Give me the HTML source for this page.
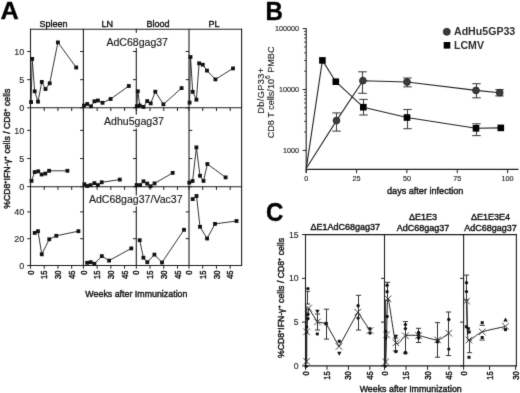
<!DOCTYPE html>
<html><head><meta charset="utf-8"><style>
html,body{margin:0;padding:0;background:#fff;}
svg{display:block;font-family:"Liberation Sans", sans-serif;}
#wrap{width:520px;height:393px;overflow:hidden;will-change:transform;}
text{stroke:#111;stroke-width:0.38px;}
text.nb{stroke:none;}
</style></head><body>
<div id="wrap"><svg width="520" height="393" viewBox="0 0 520 393">
<defs><filter id="soft" x="0" y="0" width="520" height="393" filterUnits="userSpaceOnUse" color-interpolation-filters="sRGB"><feConvolveMatrix order="3" kernelMatrix="0.01 0.08 0.01 0.08 0.64 0.08 0.01 0.08 0.01" edgeMode="duplicate" preserveAlpha="true"/></filter></defs>
<g filter="url(#soft)">
<rect width="520" height="393" fill="#fff"/>
<text transform="translate(0.6,19.3) scale(1.04,1)" font-size="24.3" font-weight="bold" fill="#000">A</text>
<text x="53.50" y="26.50" font-size="9" text-anchor="middle" font-weight="normal" fill="#111" >Spleen</text>
<text x="107.30" y="26.50" font-size="9" text-anchor="middle" font-weight="normal" fill="#111" >LN</text>
<text x="157.90" y="26.50" font-size="9" text-anchor="middle" font-weight="normal" fill="#111" >Blood</text>
<text x="213.90" y="26.50" font-size="9" text-anchor="middle" font-weight="normal" fill="#111" >PL</text>
<line x1="30.50" y1="28.70" x2="30.50" y2="266.00" stroke="#1e1e1e" stroke-width="1.1"/>
<line x1="83.40" y1="28.70" x2="83.40" y2="266.00" stroke="#1e1e1e" stroke-width="1.1"/>
<line x1="136.30" y1="28.70" x2="136.30" y2="266.00" stroke="#1e1e1e" stroke-width="1.1"/>
<line x1="189.00" y1="28.70" x2="189.00" y2="266.00" stroke="#1e1e1e" stroke-width="1.1"/>
<line x1="241.60" y1="28.70" x2="241.60" y2="266.00" stroke="#1e1e1e" stroke-width="1.1"/>
<line x1="30.00" y1="29.20" x2="242.10" y2="29.20" stroke="#1e1e1e" stroke-width="1.1"/>
<line x1="30.00" y1="107.80" x2="242.10" y2="107.80" stroke="#1e1e1e" stroke-width="1.1"/>
<line x1="30.00" y1="186.70" x2="242.10" y2="186.70" stroke="#1e1e1e" stroke-width="1.1"/>
<line x1="30.00" y1="265.50" x2="242.10" y2="265.50" stroke="#1e1e1e" stroke-width="1.1"/>
<line x1="27.20" y1="107.80" x2="30.50" y2="107.80" stroke="#1e1e1e" stroke-width="1"/>
<line x1="27.20" y1="79.65" x2="30.50" y2="79.65" stroke="#1e1e1e" stroke-width="1"/>
<line x1="27.20" y1="51.50" x2="30.50" y2="51.50" stroke="#1e1e1e" stroke-width="1"/>
<line x1="80.10" y1="107.80" x2="83.40" y2="107.80" stroke="#1e1e1e" stroke-width="1"/>
<line x1="80.10" y1="79.65" x2="83.40" y2="79.65" stroke="#1e1e1e" stroke-width="1"/>
<line x1="80.10" y1="51.50" x2="83.40" y2="51.50" stroke="#1e1e1e" stroke-width="1"/>
<line x1="133.00" y1="107.80" x2="136.30" y2="107.80" stroke="#1e1e1e" stroke-width="1"/>
<line x1="133.00" y1="79.65" x2="136.30" y2="79.65" stroke="#1e1e1e" stroke-width="1"/>
<line x1="133.00" y1="51.50" x2="136.30" y2="51.50" stroke="#1e1e1e" stroke-width="1"/>
<line x1="185.70" y1="107.80" x2="189.00" y2="107.80" stroke="#1e1e1e" stroke-width="1"/>
<line x1="185.70" y1="79.65" x2="189.00" y2="79.65" stroke="#1e1e1e" stroke-width="1"/>
<line x1="185.70" y1="51.50" x2="189.00" y2="51.50" stroke="#1e1e1e" stroke-width="1"/>
<text x="24.30" y="111.10" font-size="9" text-anchor="end" font-weight="normal" fill="#222" style="stroke-width:0.12px;stroke:#222">0</text>
<text x="24.30" y="82.95" font-size="9" text-anchor="end" font-weight="normal" fill="#222" style="stroke-width:0.12px;stroke:#222">5</text>
<text x="24.30" y="54.80" font-size="9" text-anchor="end" font-weight="normal" fill="#222" style="stroke-width:0.12px;stroke:#222">10</text>
<line x1="27.20" y1="186.70" x2="30.50" y2="186.70" stroke="#1e1e1e" stroke-width="1"/>
<line x1="27.20" y1="158.55" x2="30.50" y2="158.55" stroke="#1e1e1e" stroke-width="1"/>
<line x1="27.20" y1="130.40" x2="30.50" y2="130.40" stroke="#1e1e1e" stroke-width="1"/>
<line x1="80.10" y1="186.70" x2="83.40" y2="186.70" stroke="#1e1e1e" stroke-width="1"/>
<line x1="80.10" y1="158.55" x2="83.40" y2="158.55" stroke="#1e1e1e" stroke-width="1"/>
<line x1="80.10" y1="130.40" x2="83.40" y2="130.40" stroke="#1e1e1e" stroke-width="1"/>
<line x1="133.00" y1="186.70" x2="136.30" y2="186.70" stroke="#1e1e1e" stroke-width="1"/>
<line x1="133.00" y1="158.55" x2="136.30" y2="158.55" stroke="#1e1e1e" stroke-width="1"/>
<line x1="133.00" y1="130.40" x2="136.30" y2="130.40" stroke="#1e1e1e" stroke-width="1"/>
<line x1="189.00" y1="186.70" x2="192.30" y2="186.70" stroke="#1e1e1e" stroke-width="1"/>
<line x1="189.00" y1="158.55" x2="192.30" y2="158.55" stroke="#1e1e1e" stroke-width="1"/>
<line x1="189.00" y1="130.40" x2="192.30" y2="130.40" stroke="#1e1e1e" stroke-width="1"/>
<text x="24.30" y="190.00" font-size="9" text-anchor="end" font-weight="normal" fill="#222" style="stroke-width:0.12px;stroke:#222">0</text>
<text x="24.30" y="161.85" font-size="9" text-anchor="end" font-weight="normal" fill="#222" style="stroke-width:0.12px;stroke:#222">5</text>
<text x="24.30" y="133.70" font-size="9" text-anchor="end" font-weight="normal" fill="#222" style="stroke-width:0.12px;stroke:#222">10</text>
<line x1="27.20" y1="265.50" x2="30.50" y2="265.50" stroke="#1e1e1e" stroke-width="1"/>
<line x1="27.20" y1="238.70" x2="30.50" y2="238.70" stroke="#1e1e1e" stroke-width="1"/>
<line x1="27.20" y1="211.90" x2="30.50" y2="211.90" stroke="#1e1e1e" stroke-width="1"/>
<line x1="80.10" y1="265.50" x2="83.40" y2="265.50" stroke="#1e1e1e" stroke-width="1"/>
<line x1="80.10" y1="238.70" x2="83.40" y2="238.70" stroke="#1e1e1e" stroke-width="1"/>
<line x1="80.10" y1="211.90" x2="83.40" y2="211.90" stroke="#1e1e1e" stroke-width="1"/>
<line x1="133.00" y1="265.50" x2="136.30" y2="265.50" stroke="#1e1e1e" stroke-width="1"/>
<line x1="133.00" y1="238.70" x2="136.30" y2="238.70" stroke="#1e1e1e" stroke-width="1"/>
<line x1="133.00" y1="211.90" x2="136.30" y2="211.90" stroke="#1e1e1e" stroke-width="1"/>
<line x1="185.70" y1="265.50" x2="189.00" y2="265.50" stroke="#1e1e1e" stroke-width="1"/>
<line x1="185.70" y1="238.70" x2="189.00" y2="238.70" stroke="#1e1e1e" stroke-width="1"/>
<line x1="185.70" y1="211.90" x2="189.00" y2="211.90" stroke="#1e1e1e" stroke-width="1"/>
<text x="24.30" y="268.80" font-size="9" text-anchor="end" font-weight="normal" fill="#222" style="stroke-width:0.12px;stroke:#222">0</text>
<text x="24.30" y="242.00" font-size="9" text-anchor="end" font-weight="normal" fill="#222" style="stroke-width:0.12px;stroke:#222">20</text>
<text x="24.30" y="215.20" font-size="9" text-anchor="end" font-weight="normal" fill="#222" style="stroke-width:0.12px;stroke:#222">40</text>
<line x1="30.50" y1="107.80" x2="30.50" y2="111.00" stroke="#1e1e1e" stroke-width="1"/>
<line x1="44.23" y1="107.80" x2="44.23" y2="111.00" stroke="#1e1e1e" stroke-width="1"/>
<line x1="57.95" y1="107.80" x2="57.95" y2="111.00" stroke="#1e1e1e" stroke-width="1"/>
<line x1="71.68" y1="107.80" x2="71.68" y2="111.00" stroke="#1e1e1e" stroke-width="1"/>
<line x1="83.40" y1="107.80" x2="83.40" y2="111.00" stroke="#1e1e1e" stroke-width="1"/>
<line x1="97.12" y1="107.80" x2="97.12" y2="111.00" stroke="#1e1e1e" stroke-width="1"/>
<line x1="110.85" y1="107.80" x2="110.85" y2="111.00" stroke="#1e1e1e" stroke-width="1"/>
<line x1="124.58" y1="107.80" x2="124.58" y2="111.00" stroke="#1e1e1e" stroke-width="1"/>
<line x1="136.30" y1="107.80" x2="136.30" y2="111.00" stroke="#1e1e1e" stroke-width="1"/>
<line x1="150.03" y1="107.80" x2="150.03" y2="111.00" stroke="#1e1e1e" stroke-width="1"/>
<line x1="163.75" y1="107.80" x2="163.75" y2="111.00" stroke="#1e1e1e" stroke-width="1"/>
<line x1="177.48" y1="107.80" x2="177.48" y2="111.00" stroke="#1e1e1e" stroke-width="1"/>
<line x1="189.00" y1="107.80" x2="189.00" y2="111.00" stroke="#1e1e1e" stroke-width="1"/>
<line x1="202.72" y1="107.80" x2="202.72" y2="111.00" stroke="#1e1e1e" stroke-width="1"/>
<line x1="216.45" y1="107.80" x2="216.45" y2="111.00" stroke="#1e1e1e" stroke-width="1"/>
<line x1="230.18" y1="107.80" x2="230.18" y2="111.00" stroke="#1e1e1e" stroke-width="1"/>
<line x1="30.50" y1="186.70" x2="30.50" y2="189.90" stroke="#1e1e1e" stroke-width="1"/>
<line x1="44.23" y1="186.70" x2="44.23" y2="189.90" stroke="#1e1e1e" stroke-width="1"/>
<line x1="57.95" y1="186.70" x2="57.95" y2="189.90" stroke="#1e1e1e" stroke-width="1"/>
<line x1="71.68" y1="186.70" x2="71.68" y2="189.90" stroke="#1e1e1e" stroke-width="1"/>
<line x1="83.40" y1="186.70" x2="83.40" y2="189.90" stroke="#1e1e1e" stroke-width="1"/>
<line x1="97.12" y1="186.70" x2="97.12" y2="189.90" stroke="#1e1e1e" stroke-width="1"/>
<line x1="110.85" y1="186.70" x2="110.85" y2="189.90" stroke="#1e1e1e" stroke-width="1"/>
<line x1="124.58" y1="186.70" x2="124.58" y2="189.90" stroke="#1e1e1e" stroke-width="1"/>
<line x1="136.30" y1="186.70" x2="136.30" y2="189.90" stroke="#1e1e1e" stroke-width="1"/>
<line x1="150.03" y1="186.70" x2="150.03" y2="189.90" stroke="#1e1e1e" stroke-width="1"/>
<line x1="163.75" y1="186.70" x2="163.75" y2="189.90" stroke="#1e1e1e" stroke-width="1"/>
<line x1="177.48" y1="186.70" x2="177.48" y2="189.90" stroke="#1e1e1e" stroke-width="1"/>
<line x1="189.00" y1="186.70" x2="189.00" y2="189.90" stroke="#1e1e1e" stroke-width="1"/>
<line x1="202.72" y1="186.70" x2="202.72" y2="189.90" stroke="#1e1e1e" stroke-width="1"/>
<line x1="216.45" y1="186.70" x2="216.45" y2="189.90" stroke="#1e1e1e" stroke-width="1"/>
<line x1="230.18" y1="186.70" x2="230.18" y2="189.90" stroke="#1e1e1e" stroke-width="1"/>
<line x1="30.50" y1="265.50" x2="30.50" y2="268.70" stroke="#1e1e1e" stroke-width="1"/>
<line x1="44.23" y1="265.50" x2="44.23" y2="268.70" stroke="#1e1e1e" stroke-width="1"/>
<line x1="57.95" y1="265.50" x2="57.95" y2="268.70" stroke="#1e1e1e" stroke-width="1"/>
<line x1="71.68" y1="265.50" x2="71.68" y2="268.70" stroke="#1e1e1e" stroke-width="1"/>
<line x1="83.40" y1="265.50" x2="83.40" y2="268.70" stroke="#1e1e1e" stroke-width="1"/>
<line x1="97.12" y1="265.50" x2="97.12" y2="268.70" stroke="#1e1e1e" stroke-width="1"/>
<line x1="110.85" y1="265.50" x2="110.85" y2="268.70" stroke="#1e1e1e" stroke-width="1"/>
<line x1="124.58" y1="265.50" x2="124.58" y2="268.70" stroke="#1e1e1e" stroke-width="1"/>
<line x1="136.30" y1="265.50" x2="136.30" y2="268.70" stroke="#1e1e1e" stroke-width="1"/>
<line x1="150.03" y1="265.50" x2="150.03" y2="268.70" stroke="#1e1e1e" stroke-width="1"/>
<line x1="163.75" y1="265.50" x2="163.75" y2="268.70" stroke="#1e1e1e" stroke-width="1"/>
<line x1="177.48" y1="265.50" x2="177.48" y2="268.70" stroke="#1e1e1e" stroke-width="1"/>
<line x1="189.00" y1="265.50" x2="189.00" y2="268.70" stroke="#1e1e1e" stroke-width="1"/>
<line x1="202.72" y1="265.50" x2="202.72" y2="268.70" stroke="#1e1e1e" stroke-width="1"/>
<line x1="216.45" y1="265.50" x2="216.45" y2="268.70" stroke="#1e1e1e" stroke-width="1"/>
<line x1="230.18" y1="265.50" x2="230.18" y2="268.70" stroke="#1e1e1e" stroke-width="1"/>
<text transform="translate(33.60,270.6) rotate(-90) scale(0.92,1.12)" font-size="8.3" text-anchor="end" fill="#111">0</text>
<text transform="translate(47.33,270.6) rotate(-90) scale(0.92,1.12)" font-size="8.3" text-anchor="end" fill="#111">15</text>
<text transform="translate(61.05,270.6) rotate(-90) scale(0.92,1.12)" font-size="8.3" text-anchor="end" fill="#111">30</text>
<text transform="translate(74.78,270.6) rotate(-90) scale(0.92,1.12)" font-size="8.3" text-anchor="end" fill="#111">45</text>
<text transform="translate(86.50,270.6) rotate(-90) scale(0.92,1.12)" font-size="8.3" text-anchor="end" fill="#111">0</text>
<text transform="translate(100.22,270.6) rotate(-90) scale(0.92,1.12)" font-size="8.3" text-anchor="end" fill="#111">15</text>
<text transform="translate(113.95,270.6) rotate(-90) scale(0.92,1.12)" font-size="8.3" text-anchor="end" fill="#111">30</text>
<text transform="translate(127.68,270.6) rotate(-90) scale(0.92,1.12)" font-size="8.3" text-anchor="end" fill="#111">45</text>
<text transform="translate(139.40,270.6) rotate(-90) scale(0.92,1.12)" font-size="8.3" text-anchor="end" fill="#111">0</text>
<text transform="translate(153.12,270.6) rotate(-90) scale(0.92,1.12)" font-size="8.3" text-anchor="end" fill="#111">15</text>
<text transform="translate(166.85,270.6) rotate(-90) scale(0.92,1.12)" font-size="8.3" text-anchor="end" fill="#111">30</text>
<text transform="translate(180.58,270.6) rotate(-90) scale(0.92,1.12)" font-size="8.3" text-anchor="end" fill="#111">45</text>
<text transform="translate(192.10,270.6) rotate(-90) scale(0.92,1.12)" font-size="8.3" text-anchor="end" fill="#111">0</text>
<text transform="translate(205.82,270.6) rotate(-90) scale(0.92,1.12)" font-size="8.3" text-anchor="end" fill="#111">15</text>
<text transform="translate(219.55,270.6) rotate(-90) scale(0.92,1.12)" font-size="8.3" text-anchor="end" fill="#111">30</text>
<text transform="translate(233.28,270.6) rotate(-90) scale(0.92,1.12)" font-size="8.3" text-anchor="end" fill="#111">45</text>
<rect x="134" y="32.8" width="5" height="15.2" fill="#fff"/>
<rect x="134" y="114.6" width="5" height="12.9" fill="#fff"/>
<text x="137.2" y="45.9" font-size="10.55" text-anchor="middle" fill="#fff" style="stroke:#fff;stroke-width:3px">AdC68gag37</text>
<text x="137.2" y="45.9" font-size="10.55" text-anchor="middle" fill="#1a1a1a" style="stroke-width:0.15px">AdC68gag37</text>
<text x="134" y="124.6" font-size="10.55" text-anchor="middle" fill="#fff" style="stroke:#fff;stroke-width:3px">Adhu5gag37</text>
<text x="134" y="124.6" font-size="10.55" text-anchor="middle" fill="#1a1a1a" style="stroke-width:0.15px">Adhu5gag37</text>
<text x="135.7" y="203.2" font-size="10.55" text-anchor="middle" fill="#fff" style="stroke:#fff;stroke-width:3px">AdC68gag37/Vac37</text>
<text x="135.7" y="203.2" font-size="10.55" text-anchor="middle" fill="#1a1a1a" style="stroke-width:0.15px">AdC68gag37/Vac37</text>
<polyline points="31.10,102.10 32.20,58.90 34.70,91.30 38.00,101.70 41.80,81.90 45.50,89.00 49.70,83.30 57.90,42.40 76.20,67.50" fill="none" stroke="#1e1e1e" stroke-width="0.9" stroke-linejoin="round"/>
<rect x="29.20" y="100.20" width="3.8" height="3.8" fill="#111"/>
<rect x="30.30" y="57.00" width="3.8" height="3.8" fill="#111"/>
<rect x="32.80" y="89.40" width="3.8" height="3.8" fill="#111"/>
<rect x="36.10" y="99.80" width="3.8" height="3.8" fill="#111"/>
<rect x="39.90" y="80.00" width="3.8" height="3.8" fill="#111"/>
<rect x="43.60" y="87.10" width="3.8" height="3.8" fill="#111"/>
<rect x="47.80" y="81.40" width="3.8" height="3.8" fill="#111"/>
<rect x="56.00" y="40.50" width="3.8" height="3.8" fill="#111"/>
<rect x="74.30" y="65.60" width="3.8" height="3.8" fill="#111"/>
<polyline points="84.00,105.60 87.20,104.00 91.00,106.30 94.40,101.30 97.90,100.50 102.50,102.80 110.60,99.00 128.80,86.00" fill="none" stroke="#1e1e1e" stroke-width="0.9" stroke-linejoin="round"/>
<rect x="82.10" y="103.70" width="3.8" height="3.8" fill="#111"/>
<rect x="85.30" y="102.10" width="3.8" height="3.8" fill="#111"/>
<rect x="89.10" y="104.40" width="3.8" height="3.8" fill="#111"/>
<rect x="92.50" y="99.40" width="3.8" height="3.8" fill="#111"/>
<rect x="96.00" y="98.60" width="3.8" height="3.8" fill="#111"/>
<rect x="100.60" y="100.90" width="3.8" height="3.8" fill="#111"/>
<rect x="108.70" y="97.10" width="3.8" height="3.8" fill="#111"/>
<rect x="126.90" y="84.10" width="3.8" height="3.8" fill="#111"/>
<polyline points="136.80,106.20 137.80,91.30 139.80,105.50 143.50,106.90 147.20,101.10 150.70,103.40 155.30,91.70 163.40,104.30 181.60,88.10" fill="none" stroke="#1e1e1e" stroke-width="0.9" stroke-linejoin="round"/>
<rect x="134.90" y="104.30" width="3.8" height="3.8" fill="#111"/>
<rect x="135.90" y="89.40" width="3.8" height="3.8" fill="#111"/>
<rect x="137.90" y="103.60" width="3.8" height="3.8" fill="#111"/>
<rect x="141.60" y="105.00" width="3.8" height="3.8" fill="#111"/>
<rect x="145.30" y="99.20" width="3.8" height="3.8" fill="#111"/>
<rect x="148.80" y="101.50" width="3.8" height="3.8" fill="#111"/>
<rect x="153.40" y="89.80" width="3.8" height="3.8" fill="#111"/>
<rect x="161.50" y="102.40" width="3.8" height="3.8" fill="#111"/>
<rect x="179.70" y="86.20" width="3.8" height="3.8" fill="#111"/>
<polyline points="189.60,102.60 190.50,57.00 192.70,91.80 196.40,99.70 199.10,63.30 202.80,64.70 207.00,70.60 215.40,79.40 233.00,68.40" fill="none" stroke="#1e1e1e" stroke-width="0.9" stroke-linejoin="round"/>
<rect x="187.70" y="100.70" width="3.8" height="3.8" fill="#111"/>
<rect x="188.60" y="55.10" width="3.8" height="3.8" fill="#111"/>
<rect x="190.80" y="89.90" width="3.8" height="3.8" fill="#111"/>
<rect x="194.50" y="97.80" width="3.8" height="3.8" fill="#111"/>
<rect x="197.20" y="61.40" width="3.8" height="3.8" fill="#111"/>
<rect x="200.90" y="62.80" width="3.8" height="3.8" fill="#111"/>
<rect x="205.10" y="68.70" width="3.8" height="3.8" fill="#111"/>
<rect x="213.50" y="77.50" width="3.8" height="3.8" fill="#111"/>
<rect x="231.10" y="66.50" width="3.8" height="3.8" fill="#111"/>
<polyline points="31.50,180.90 34.70,172.10 38.20,171.30 41.60,174.50 45.30,173.60 49.10,170.80 67.40,170.80" fill="none" stroke="#1e1e1e" stroke-width="0.9" stroke-linejoin="round"/>
<rect x="29.60" y="179.00" width="3.8" height="3.8" fill="#111"/>
<rect x="32.80" y="170.20" width="3.8" height="3.8" fill="#111"/>
<rect x="36.30" y="169.40" width="3.8" height="3.8" fill="#111"/>
<rect x="39.70" y="172.60" width="3.8" height="3.8" fill="#111"/>
<rect x="43.40" y="171.70" width="3.8" height="3.8" fill="#111"/>
<rect x="47.20" y="168.90" width="3.8" height="3.8" fill="#111"/>
<rect x="65.50" y="168.90" width="3.8" height="3.8" fill="#111"/>
<polyline points="84.40,184.20 87.20,186.00 90.60,185.10 94.40,183.10 97.90,185.10 101.70,182.30 119.80,179.60" fill="none" stroke="#1e1e1e" stroke-width="0.9" stroke-linejoin="round"/>
<rect x="82.50" y="182.30" width="3.8" height="3.8" fill="#111"/>
<rect x="85.30" y="184.10" width="3.8" height="3.8" fill="#111"/>
<rect x="88.70" y="183.20" width="3.8" height="3.8" fill="#111"/>
<rect x="92.50" y="181.20" width="3.8" height="3.8" fill="#111"/>
<rect x="96.00" y="183.20" width="3.8" height="3.8" fill="#111"/>
<rect x="99.80" y="180.40" width="3.8" height="3.8" fill="#111"/>
<rect x="117.90" y="177.70" width="3.8" height="3.8" fill="#111"/>
<polyline points="136.60,185.10 140.10,185.10 143.50,181.30 147.20,183.60 150.50,186.30 154.50,183.40 172.70,172.90" fill="none" stroke="#1e1e1e" stroke-width="0.9" stroke-linejoin="round"/>
<rect x="134.70" y="183.20" width="3.8" height="3.8" fill="#111"/>
<rect x="138.20" y="183.20" width="3.8" height="3.8" fill="#111"/>
<rect x="141.60" y="179.40" width="3.8" height="3.8" fill="#111"/>
<rect x="145.30" y="181.70" width="3.8" height="3.8" fill="#111"/>
<rect x="148.60" y="184.40" width="3.8" height="3.8" fill="#111"/>
<rect x="152.60" y="181.50" width="3.8" height="3.8" fill="#111"/>
<rect x="170.80" y="171.00" width="3.8" height="3.8" fill="#111"/>
<polyline points="189.30,182.60 192.60,181.00 196.40,147.40 200.00,175.80 203.50,180.90 207.40,164.00 225.60,177.40" fill="none" stroke="#1e1e1e" stroke-width="0.9" stroke-linejoin="round"/>
<rect x="187.40" y="180.70" width="3.8" height="3.8" fill="#111"/>
<rect x="190.70" y="179.10" width="3.8" height="3.8" fill="#111"/>
<rect x="194.50" y="145.50" width="3.8" height="3.8" fill="#111"/>
<rect x="198.10" y="173.90" width="3.8" height="3.8" fill="#111"/>
<rect x="201.60" y="179.00" width="3.8" height="3.8" fill="#111"/>
<rect x="205.50" y="162.10" width="3.8" height="3.8" fill="#111"/>
<rect x="223.70" y="175.50" width="3.8" height="3.8" fill="#111"/>
<polyline points="34.70,232.90 38.00,231.20 41.75,254.30 49.25,239.30 56.30,235.80 78.40,231.20" fill="none" stroke="#1e1e1e" stroke-width="0.9" stroke-linejoin="round"/>
<rect x="32.80" y="231.00" width="3.8" height="3.8" fill="#111"/>
<rect x="36.10" y="229.30" width="3.8" height="3.8" fill="#111"/>
<rect x="39.85" y="252.40" width="3.8" height="3.8" fill="#111"/>
<rect x="47.35" y="237.40" width="3.8" height="3.8" fill="#111"/>
<rect x="54.40" y="233.90" width="3.8" height="3.8" fill="#111"/>
<rect x="76.50" y="229.30" width="3.8" height="3.8" fill="#111"/>
<polyline points="87.10,262.80 90.80,262.20 94.40,263.80 101.80,256.10 109.10,260.60 131.30,248.40" fill="none" stroke="#1e1e1e" stroke-width="0.9" stroke-linejoin="round"/>
<rect x="85.20" y="260.90" width="3.8" height="3.8" fill="#111"/>
<rect x="88.90" y="260.30" width="3.8" height="3.8" fill="#111"/>
<rect x="92.50" y="261.90" width="3.8" height="3.8" fill="#111"/>
<rect x="99.90" y="254.20" width="3.8" height="3.8" fill="#111"/>
<rect x="107.20" y="258.70" width="3.8" height="3.8" fill="#111"/>
<rect x="129.40" y="246.50" width="3.8" height="3.8" fill="#111"/>
<polyline points="139.70,240.20 143.40,257.70 147.30,262.20 154.40,254.60 162.00,262.50 184.00,229.80" fill="none" stroke="#1e1e1e" stroke-width="0.9" stroke-linejoin="round"/>
<rect x="137.80" y="238.30" width="3.8" height="3.8" fill="#111"/>
<rect x="141.50" y="255.80" width="3.8" height="3.8" fill="#111"/>
<rect x="145.40" y="260.30" width="3.8" height="3.8" fill="#111"/>
<rect x="152.50" y="252.70" width="3.8" height="3.8" fill="#111"/>
<rect x="160.10" y="260.60" width="3.8" height="3.8" fill="#111"/>
<rect x="182.10" y="227.90" width="3.8" height="3.8" fill="#111"/>
<polyline points="192.70,199.10 196.50,196.00 200.00,226.80 207.10,238.50 215.00,223.90 236.50,221.00" fill="none" stroke="#1e1e1e" stroke-width="0.9" stroke-linejoin="round"/>
<rect x="190.80" y="197.20" width="3.8" height="3.8" fill="#111"/>
<rect x="194.60" y="194.10" width="3.8" height="3.8" fill="#111"/>
<rect x="198.10" y="224.90" width="3.8" height="3.8" fill="#111"/>
<rect x="205.20" y="236.60" width="3.8" height="3.8" fill="#111"/>
<rect x="213.10" y="222.00" width="3.8" height="3.8" fill="#111"/>
<rect x="234.60" y="219.10" width="3.8" height="3.8" fill="#111"/>
<text transform="translate(10.4,148.7) rotate(-90) scale(1,1.13)" font-size="8.7" text-anchor="middle" fill="#111">%CD8<tspan font-size="5.5" dy="-3">+</tspan><tspan dy="3">IFN-γ</tspan><tspan font-size="5.5" dy="-3">+</tspan><tspan dy="3"> cells / CD8</tspan><tspan font-size="5.5" dy="-3">+</tspan><tspan dy="3"> cells</tspan></text>
<text x="136.40" y="296.70" font-size="8.85" text-anchor="middle" font-weight="normal" fill="#111" >Weeks after Immunization</text>
<text transform="translate(265.6,19.8) scale(0.98,1.02)" font-size="24.6" font-weight="bold" fill="#000">B</text>
<line x1="306.20" y1="28.20" x2="306.20" y2="172.80" stroke="#1e1e1e" stroke-width="1.1"/>
<line x1="305.70" y1="169.40" x2="518.50" y2="169.40" stroke="#1e1e1e" stroke-width="1.1"/>
<line x1="302.70" y1="150.40" x2="306.20" y2="150.40" stroke="#1e1e1e" stroke-width="1"/>
<text x="298.90" y="153.00" font-size="7.2" text-anchor="end" font-weight="normal" fill="#222" style="stroke-width:0.15px;stroke:#222">1000</text>
<line x1="302.70" y1="89.50" x2="306.20" y2="89.50" stroke="#1e1e1e" stroke-width="1"/>
<text x="298.90" y="92.10" font-size="7.2" text-anchor="end" font-weight="normal" fill="#222" style="stroke-width:0.15px;stroke:#222">10000</text>
<line x1="302.70" y1="28.60" x2="306.20" y2="28.60" stroke="#1e1e1e" stroke-width="1"/>
<text x="298.90" y="31.20" font-size="7.2" text-anchor="end" font-weight="normal" fill="#222" style="stroke-width:0.15px;stroke:#222">100000</text>
<line x1="304.00" y1="132.07" x2="306.20" y2="132.07" stroke="#1e1e1e" stroke-width="0.8"/>
<line x1="304.00" y1="121.34" x2="306.20" y2="121.34" stroke="#1e1e1e" stroke-width="0.8"/>
<line x1="304.00" y1="113.73" x2="306.20" y2="113.73" stroke="#1e1e1e" stroke-width="0.8"/>
<line x1="304.00" y1="107.83" x2="306.20" y2="107.83" stroke="#1e1e1e" stroke-width="0.8"/>
<line x1="304.00" y1="103.01" x2="306.20" y2="103.01" stroke="#1e1e1e" stroke-width="0.8"/>
<line x1="304.00" y1="98.93" x2="306.20" y2="98.93" stroke="#1e1e1e" stroke-width="0.8"/>
<line x1="304.00" y1="95.40" x2="306.20" y2="95.40" stroke="#1e1e1e" stroke-width="0.8"/>
<line x1="304.00" y1="92.29" x2="306.20" y2="92.29" stroke="#1e1e1e" stroke-width="0.8"/>
<line x1="304.00" y1="71.17" x2="306.20" y2="71.17" stroke="#1e1e1e" stroke-width="0.8"/>
<line x1="304.00" y1="60.44" x2="306.20" y2="60.44" stroke="#1e1e1e" stroke-width="0.8"/>
<line x1="304.00" y1="52.83" x2="306.20" y2="52.83" stroke="#1e1e1e" stroke-width="0.8"/>
<line x1="304.00" y1="46.93" x2="306.20" y2="46.93" stroke="#1e1e1e" stroke-width="0.8"/>
<line x1="304.00" y1="42.11" x2="306.20" y2="42.11" stroke="#1e1e1e" stroke-width="0.8"/>
<line x1="304.00" y1="38.03" x2="306.20" y2="38.03" stroke="#1e1e1e" stroke-width="0.8"/>
<line x1="304.00" y1="34.50" x2="306.20" y2="34.50" stroke="#1e1e1e" stroke-width="0.8"/>
<line x1="304.00" y1="31.39" x2="306.20" y2="31.39" stroke="#1e1e1e" stroke-width="0.8"/>
<line x1="306.20" y1="169.40" x2="306.20" y2="173.20" stroke="#1e1e1e" stroke-width="1"/>
<text x="306.20" y="181.00" font-size="7.2" text-anchor="middle" font-weight="normal" fill="#222" style="stroke-width:0.15px;stroke:#222">0</text>
<line x1="356.55" y1="169.40" x2="356.55" y2="173.20" stroke="#1e1e1e" stroke-width="1"/>
<text x="356.55" y="181.00" font-size="7.2" text-anchor="middle" font-weight="normal" fill="#222" style="stroke-width:0.15px;stroke:#222">25</text>
<line x1="406.90" y1="169.40" x2="406.90" y2="173.20" stroke="#1e1e1e" stroke-width="1"/>
<text x="406.90" y="181.00" font-size="7.2" text-anchor="middle" font-weight="normal" fill="#222" style="stroke-width:0.15px;stroke:#222">50</text>
<line x1="457.25" y1="169.40" x2="457.25" y2="173.20" stroke="#1e1e1e" stroke-width="1"/>
<text x="457.25" y="181.00" font-size="7.2" text-anchor="middle" font-weight="normal" fill="#222" style="stroke-width:0.15px;stroke:#222">75</text>
<line x1="507.60" y1="169.40" x2="507.60" y2="173.20" stroke="#1e1e1e" stroke-width="1"/>
<text x="507.60" y="181.00" font-size="7.2" text-anchor="middle" font-weight="normal" fill="#222" style="stroke-width:0.15px;stroke:#222">100</text>
<text x="425.20" y="193.80" font-size="9.1" text-anchor="middle" font-weight="normal" fill="#111" >days after infection</text>
<text transform="translate(263.8,90.6) rotate(-90)" font-size="9.1" text-anchor="middle" fill="#222" style="stroke-width:0.12px;stroke:#222;letter-spacing:0.42px">Db/GP33+</text>
<text transform="translate(273.6,92.4) rotate(-90)" font-size="9.1" text-anchor="middle" fill="#222" style="stroke-width:0.12px;stroke:#222">CD8 T cells/10<tspan font-size="6.6" dy="-3.3">6</tspan><tspan dy="3.3"> PMBC</tspan></text>
<polyline points="306.30,168.30 322.40,60.40 335.80,81.70 363.30,107.20 407.00,117.50 476.00,128.30 500.80,127.90" fill="none" stroke="#222" stroke-width="1.1" stroke-linejoin="round"/>
<polyline points="306.30,168.30 336.50,120.60 362.90,80.70 407.00,82.00 476.00,90.40 499.70,92.70" fill="none" stroke="#222" stroke-width="1.1" stroke-linejoin="round"/>
<line x1="363.50" y1="99.40" x2="363.50" y2="115.00" stroke="#444" stroke-width="1.1"/>
<line x1="359.25" y1="99.40" x2="367.75" y2="99.40" stroke="#444" stroke-width="1.1"/>
<line x1="359.25" y1="115.00" x2="367.75" y2="115.00" stroke="#444" stroke-width="1.1"/>
<line x1="407.50" y1="109.50" x2="407.50" y2="128.70" stroke="#444" stroke-width="1.1"/>
<line x1="403.25" y1="109.50" x2="411.75" y2="109.50" stroke="#444" stroke-width="1.1"/>
<line x1="403.25" y1="128.70" x2="411.75" y2="128.70" stroke="#444" stroke-width="1.1"/>
<line x1="476.50" y1="123.80" x2="476.50" y2="135.60" stroke="#444" stroke-width="1.1"/>
<line x1="472.25" y1="123.80" x2="480.75" y2="123.80" stroke="#444" stroke-width="1.1"/>
<line x1="472.25" y1="135.60" x2="480.75" y2="135.60" stroke="#444" stroke-width="1.1"/>
<line x1="336.50" y1="112.90" x2="336.50" y2="131.10" stroke="#444" stroke-width="1.1"/>
<line x1="332.25" y1="112.90" x2="340.75" y2="112.90" stroke="#444" stroke-width="1.1"/>
<line x1="332.25" y1="131.10" x2="340.75" y2="131.10" stroke="#444" stroke-width="1.1"/>
<line x1="362.50" y1="71.80" x2="362.50" y2="93.30" stroke="#444" stroke-width="1.1"/>
<line x1="358.25" y1="71.80" x2="366.75" y2="71.80" stroke="#444" stroke-width="1.1"/>
<line x1="358.25" y1="93.30" x2="366.75" y2="93.30" stroke="#444" stroke-width="1.1"/>
<line x1="407.50" y1="78.00" x2="407.50" y2="86.80" stroke="#444" stroke-width="1.1"/>
<line x1="403.25" y1="78.00" x2="411.75" y2="78.00" stroke="#444" stroke-width="1.1"/>
<line x1="403.25" y1="86.80" x2="411.75" y2="86.80" stroke="#444" stroke-width="1.1"/>
<line x1="476.50" y1="83.70" x2="476.50" y2="97.80" stroke="#444" stroke-width="1.1"/>
<line x1="472.25" y1="83.70" x2="480.75" y2="83.70" stroke="#444" stroke-width="1.1"/>
<line x1="472.25" y1="97.80" x2="480.75" y2="97.80" stroke="#444" stroke-width="1.1"/>
<line x1="499.50" y1="89.60" x2="499.50" y2="95.90" stroke="#444" stroke-width="1.1"/>
<line x1="495.25" y1="89.60" x2="503.75" y2="89.60" stroke="#444" stroke-width="1.1"/>
<line x1="495.25" y1="95.90" x2="503.75" y2="95.90" stroke="#444" stroke-width="1.1"/>
<rect x="319.10" y="57.10" width="6.6" height="6.6" fill="#000"/>
<rect x="332.50" y="78.40" width="6.6" height="6.6" fill="#000"/>
<rect x="360.00" y="103.90" width="6.6" height="6.6" fill="#000"/>
<rect x="403.70" y="114.20" width="6.6" height="6.6" fill="#000"/>
<rect x="472.70" y="125.00" width="6.6" height="6.6" fill="#000"/>
<rect x="497.50" y="124.60" width="6.6" height="6.6" fill="#000"/>
<circle cx="336.5" cy="120.6" r="3.4" fill="#3c3c3c" stroke="#222" stroke-width="0.8"/>
<circle cx="362.9" cy="80.7" r="3.4" fill="#3c3c3c" stroke="#222" stroke-width="0.8"/>
<circle cx="407" cy="82" r="3.4" fill="#3c3c3c" stroke="#222" stroke-width="0.8"/>
<circle cx="476" cy="90.4" r="3.4" fill="#3c3c3c" stroke="#222" stroke-width="0.8"/>
<circle cx="499.7" cy="92.7" r="3.4" fill="#3c3c3c" stroke="#222" stroke-width="0.8"/>
<circle cx="446.8" cy="31.8" r="3.5" fill="#3c3c3c" stroke="#222" stroke-width="0.8"/>
<rect x="443.70" y="42.00" width="6.6" height="6.6" fill="#000"/>
<text x="454.00" y="35.20" font-size="10.6" text-anchor="start" font-weight="bold" fill="#2a2a2a" class="nb">AdHu5GP33</text>
<text x="454.00" y="49.10" font-size="10.6" text-anchor="start" font-weight="bold" fill="#2a2a2a" class="nb">LCMV</text>
<text transform="translate(265.9,220.6) scale(0.98,1.07)" font-size="24.5" font-weight="bold" fill="#000">C</text>
<line x1="305.50" y1="234.10" x2="305.50" y2="366.40" stroke="#1e1e1e" stroke-width="1.1"/>
<line x1="384.50" y1="234.10" x2="384.50" y2="366.40" stroke="#1e1e1e" stroke-width="1.1"/>
<line x1="463.60" y1="234.10" x2="463.60" y2="366.40" stroke="#1e1e1e" stroke-width="1.1"/>
<line x1="516.40" y1="234.10" x2="516.40" y2="366.40" stroke="#1e1e1e" stroke-width="1.1"/>
<line x1="305.00" y1="234.60" x2="516.90" y2="234.60" stroke="#1e1e1e" stroke-width="1.1"/>
<line x1="305.00" y1="365.90" x2="516.90" y2="365.90" stroke="#1e1e1e" stroke-width="1.1"/>
<line x1="302.00" y1="365.90" x2="305.50" y2="365.90" stroke="#1e1e1e" stroke-width="1"/>
<line x1="302.00" y1="322.13" x2="305.50" y2="322.13" stroke="#1e1e1e" stroke-width="1"/>
<line x1="302.00" y1="278.37" x2="305.50" y2="278.37" stroke="#1e1e1e" stroke-width="1"/>
<line x1="302.00" y1="234.60" x2="305.50" y2="234.60" stroke="#1e1e1e" stroke-width="1"/>
<line x1="381.00" y1="365.90" x2="384.50" y2="365.90" stroke="#1e1e1e" stroke-width="1"/>
<line x1="381.00" y1="322.13" x2="384.50" y2="322.13" stroke="#1e1e1e" stroke-width="1"/>
<line x1="381.00" y1="278.37" x2="384.50" y2="278.37" stroke="#1e1e1e" stroke-width="1"/>
<line x1="381.00" y1="234.60" x2="384.50" y2="234.60" stroke="#1e1e1e" stroke-width="1"/>
<line x1="460.10" y1="365.90" x2="463.60" y2="365.90" stroke="#1e1e1e" stroke-width="1"/>
<line x1="460.10" y1="322.13" x2="463.60" y2="322.13" stroke="#1e1e1e" stroke-width="1"/>
<line x1="460.10" y1="278.37" x2="463.60" y2="278.37" stroke="#1e1e1e" stroke-width="1"/>
<line x1="460.10" y1="234.60" x2="463.60" y2="234.60" stroke="#1e1e1e" stroke-width="1"/>
<text x="298.60" y="369.00" font-size="8.7" text-anchor="end" font-weight="normal" fill="#222" style="stroke-width:0.12px;stroke:#222">0</text>
<text x="298.60" y="325.24" font-size="8.7" text-anchor="end" font-weight="normal" fill="#222" style="stroke-width:0.12px;stroke:#222">5</text>
<text x="298.60" y="281.47" font-size="8.7" text-anchor="end" font-weight="normal" fill="#222" style="stroke-width:0.12px;stroke:#222">10</text>
<text x="298.60" y="237.70" font-size="8.7" text-anchor="end" font-weight="normal" fill="#222" style="stroke-width:0.12px;stroke:#222">15</text>
<line x1="305.50" y1="365.90" x2="305.50" y2="369.80" stroke="#1e1e1e" stroke-width="1"/>
<text transform="translate(308.50,371.3) rotate(-90) scale(0.92,1.12)" font-size="8.3" text-anchor="end" fill="#111">0</text>
<line x1="326.95" y1="365.90" x2="326.95" y2="369.80" stroke="#1e1e1e" stroke-width="1"/>
<text transform="translate(329.95,371.3) rotate(-90) scale(0.92,1.12)" font-size="8.3" text-anchor="end" fill="#111">15</text>
<line x1="348.40" y1="365.90" x2="348.40" y2="369.80" stroke="#1e1e1e" stroke-width="1"/>
<text transform="translate(351.40,371.3) rotate(-90) scale(0.92,1.12)" font-size="8.3" text-anchor="end" fill="#111">30</text>
<line x1="369.85" y1="365.90" x2="369.85" y2="369.80" stroke="#1e1e1e" stroke-width="1"/>
<text transform="translate(372.85,371.3) rotate(-90) scale(0.92,1.12)" font-size="8.3" text-anchor="end" fill="#111">45</text>
<line x1="384.50" y1="365.90" x2="384.50" y2="369.80" stroke="#1e1e1e" stroke-width="1"/>
<text transform="translate(387.50,371.3) rotate(-90) scale(0.92,1.12)" font-size="8.3" text-anchor="end" fill="#111">0</text>
<line x1="406.02" y1="365.90" x2="406.02" y2="369.80" stroke="#1e1e1e" stroke-width="1"/>
<text transform="translate(409.02,371.3) rotate(-90) scale(0.92,1.12)" font-size="8.3" text-anchor="end" fill="#111">15</text>
<line x1="427.55" y1="365.90" x2="427.55" y2="369.80" stroke="#1e1e1e" stroke-width="1"/>
<text transform="translate(430.55,371.3) rotate(-90) scale(0.92,1.12)" font-size="8.3" text-anchor="end" fill="#111">30</text>
<line x1="449.07" y1="365.90" x2="449.07" y2="369.80" stroke="#1e1e1e" stroke-width="1"/>
<text transform="translate(452.07,371.3) rotate(-90) scale(0.92,1.12)" font-size="8.3" text-anchor="end" fill="#111">45</text>
<line x1="463.60" y1="365.90" x2="463.60" y2="369.80" stroke="#1e1e1e" stroke-width="1"/>
<text transform="translate(466.60,371.3) rotate(-90) scale(0.92,1.12)" font-size="8.3" text-anchor="end" fill="#111">0</text>
<line x1="489.60" y1="365.90" x2="489.60" y2="369.80" stroke="#1e1e1e" stroke-width="1"/>
<text transform="translate(492.60,371.3) rotate(-90) scale(0.92,1.12)" font-size="8.3" text-anchor="end" fill="#111">15</text>
<line x1="515.59" y1="365.90" x2="515.59" y2="369.80" stroke="#1e1e1e" stroke-width="1"/>
<text transform="translate(518.59,371.3) rotate(-90) scale(0.92,1.12)" font-size="8.3" text-anchor="end" fill="#111">30</text>
<text x="345.20" y="230.20" font-size="9" text-anchor="middle" font-weight="normal" fill="#111" >ΔE1AdC68gag37</text>
<text x="423.10" y="219.90" font-size="9" text-anchor="middle" font-weight="normal" fill="#111" >ΔE1E3</text>
<text x="423.10" y="230.70" font-size="9" text-anchor="middle" font-weight="normal" fill="#111" >AdC68gag37</text>
<text x="490.60" y="219.90" font-size="9" text-anchor="middle" font-weight="normal" fill="#111" >ΔE1E3E4</text>
<text x="490.60" y="230.70" font-size="9" text-anchor="middle" font-weight="normal" fill="#111" >AdC68gag37</text>
<text transform="translate(283.9,298) rotate(-90) scale(1,1.13)" font-size="8.7" text-anchor="middle" fill="#111">%CD8<tspan font-size="5.5" dy="-3">+</tspan><tspan dy="3">IFN-γ</tspan><tspan font-size="5.5" dy="-3">+</tspan><tspan dy="3"> cells / CD8</tspan><tspan font-size="5.5" dy="-3">+</tspan><tspan dy="3"> cells</tspan></text>
<text x="410.70" y="392.00" font-size="8.85" text-anchor="middle" font-weight="normal" fill="#111" >Weeks after Immunization</text>
<line x1="307.50" y1="291.30" x2="307.50" y2="304.00" stroke="#333" stroke-width="1.0"/>
<line x1="304.90" y1="291.30" x2="310.10" y2="291.30" stroke="#333" stroke-width="1.0"/>
<line x1="304.90" y1="304.00" x2="310.10" y2="304.00" stroke="#333" stroke-width="1.0"/>
<line x1="317.50" y1="314.00" x2="317.50" y2="330.00" stroke="#333" stroke-width="1.0"/>
<line x1="314.90" y1="314.00" x2="320.10" y2="314.00" stroke="#333" stroke-width="1.0"/>
<line x1="314.90" y1="330.00" x2="320.10" y2="330.00" stroke="#333" stroke-width="1.0"/>
<line x1="326.50" y1="309.20" x2="326.50" y2="339.10" stroke="#333" stroke-width="1.0"/>
<line x1="323.90" y1="309.20" x2="329.10" y2="309.20" stroke="#333" stroke-width="1.0"/>
<line x1="323.90" y1="339.10" x2="329.10" y2="339.10" stroke="#333" stroke-width="1.0"/>
<line x1="358.50" y1="295.30" x2="358.50" y2="330.00" stroke="#333" stroke-width="1.0"/>
<line x1="355.90" y1="295.30" x2="361.10" y2="295.30" stroke="#333" stroke-width="1.0"/>
<line x1="355.90" y1="330.00" x2="361.10" y2="330.00" stroke="#333" stroke-width="1.0"/>
<line x1="306.60" y1="307.00" x2="306.60" y2="364.00" stroke="#444" stroke-width="1.2"/>
<polyline points="306.60,361.30 306.60,331.80 308.60,308.10 317.40,321.90 326.10,323.60 339.00,346.50 357.80,312.20 370.00,330.50" fill="none" stroke="#222" stroke-width="1.0" stroke-linejoin="round"/>
<circle cx="307.9" cy="288.6" r="1.7" fill="#111"/>
<circle cx="307.9" cy="314.3" r="1.7" fill="#111"/>
<circle cx="307.9" cy="318.6" r="1.7" fill="#111"/>
<circle cx="306.6" cy="327" r="1.7" fill="#111"/>
<circle cx="306.6" cy="332.1" r="1.7" fill="#111"/>
<circle cx="306.2" cy="366.2" r="1.7" fill="#111"/>
<circle cx="317.3" cy="333.9" r="1.7" fill="#111"/>
<circle cx="339.3" cy="341.3" r="1.7" fill="#111"/>
<circle cx="358.1" cy="305.7" r="1.7" fill="#111"/>
<circle cx="358.1" cy="318.1" r="1.7" fill="#111"/>
<circle cx="370" cy="328.8" r="1.7" fill="#111"/>
<circle cx="370" cy="333.1" r="1.7" fill="#111"/>
<polygon points="315.2,309.84000000000003 319.59999999999997,309.84000000000003 317.4,313.8" fill="#111"/>
<polygon points="337.1,351.84000000000003 341.5,351.84000000000003 339.3,355.8" fill="#111"/>
<rect x="324.40" y="321.90" width="3.4" height="3.4" fill="#111"/>
<line x1="303.30" y1="358.00" x2="309.90" y2="364.60" stroke="#333" stroke-width="0.9"/>
<line x1="303.30" y1="364.60" x2="309.90" y2="358.00" stroke="#333" stroke-width="0.9"/>
<line x1="303.30" y1="328.50" x2="309.90" y2="335.10" stroke="#333" stroke-width="0.9"/>
<line x1="303.30" y1="335.10" x2="309.90" y2="328.50" stroke="#333" stroke-width="0.9"/>
<line x1="305.30" y1="304.80" x2="311.90" y2="311.40" stroke="#333" stroke-width="0.9"/>
<line x1="305.30" y1="311.40" x2="311.90" y2="304.80" stroke="#333" stroke-width="0.9"/>
<line x1="314.10" y1="318.60" x2="320.70" y2="325.20" stroke="#333" stroke-width="0.9"/>
<line x1="314.10" y1="325.20" x2="320.70" y2="318.60" stroke="#333" stroke-width="0.9"/>
<line x1="335.70" y1="343.20" x2="342.30" y2="349.80" stroke="#333" stroke-width="0.9"/>
<line x1="335.70" y1="349.80" x2="342.30" y2="343.20" stroke="#333" stroke-width="0.9"/>
<line x1="354.50" y1="308.90" x2="361.10" y2="315.50" stroke="#333" stroke-width="0.9"/>
<line x1="354.50" y1="315.50" x2="361.10" y2="308.90" stroke="#333" stroke-width="0.9"/>
<line x1="366.70" y1="327.20" x2="373.30" y2="333.80" stroke="#333" stroke-width="0.9"/>
<line x1="366.70" y1="333.80" x2="373.30" y2="327.20" stroke="#333" stroke-width="0.9"/>
<line x1="387.50" y1="282.30" x2="387.50" y2="300.00" stroke="#333" stroke-width="1.0"/>
<line x1="384.90" y1="282.30" x2="390.10" y2="282.30" stroke="#333" stroke-width="1.0"/>
<line x1="384.90" y1="300.00" x2="390.10" y2="300.00" stroke="#333" stroke-width="1.0"/>
<line x1="405.50" y1="321.60" x2="405.50" y2="353.10" stroke="#333" stroke-width="1.0"/>
<line x1="402.90" y1="321.60" x2="408.10" y2="321.60" stroke="#333" stroke-width="1.0"/>
<line x1="402.90" y1="353.10" x2="408.10" y2="353.10" stroke="#333" stroke-width="1.0"/>
<line x1="418.50" y1="328.30" x2="418.50" y2="342.50" stroke="#333" stroke-width="1.0"/>
<line x1="415.90" y1="328.30" x2="421.10" y2="328.30" stroke="#333" stroke-width="1.0"/>
<line x1="415.90" y1="342.50" x2="421.10" y2="342.50" stroke="#333" stroke-width="1.0"/>
<line x1="437.50" y1="322.60" x2="437.50" y2="357.20" stroke="#333" stroke-width="1.0"/>
<line x1="434.90" y1="322.60" x2="440.10" y2="322.60" stroke="#333" stroke-width="1.0"/>
<line x1="434.90" y1="357.20" x2="440.10" y2="357.20" stroke="#333" stroke-width="1.0"/>
<line x1="448.50" y1="312.00" x2="448.50" y2="355.60" stroke="#333" stroke-width="1.0"/>
<line x1="445.90" y1="312.00" x2="451.10" y2="312.00" stroke="#333" stroke-width="1.0"/>
<line x1="445.90" y1="355.60" x2="451.10" y2="355.60" stroke="#333" stroke-width="1.0"/>
<line x1="395.50" y1="338.00" x2="395.50" y2="351.00" stroke="#333" stroke-width="1.0"/>
<line x1="392.90" y1="338.00" x2="398.10" y2="338.00" stroke="#333" stroke-width="1.0"/>
<line x1="392.90" y1="351.00" x2="398.10" y2="351.00" stroke="#333" stroke-width="1.0"/>
<line x1="385.60" y1="300.00" x2="385.60" y2="364.00" stroke="#444" stroke-width="1.2"/>
<path d="M385.70,361.90 C385.81,358.74 386.32,342.15 386.60,334.80 C386.88,327.45 387.02,297.97 388.10,298.90 C389.19,299.83 393.88,338.50 395.90,342.80 C397.92,347.11 402.75,336.64 405.40,335.80 C408.05,334.96 414.84,335.12 418.60,335.60 C422.36,336.08 434.08,340.18 437.60,339.90 C441.12,339.62 447.49,333.98 448.80,333.20" fill="none" stroke="#222" stroke-width="1.0"/>
<circle cx="387.1" cy="285.3" r="1.7" fill="#111"/>
<circle cx="387.1" cy="291.7" r="1.7" fill="#111"/>
<circle cx="387.1" cy="316.5" r="1.7" fill="#111"/>
<circle cx="385.7" cy="331.4" r="1.7" fill="#111"/>
<circle cx="385.7" cy="337.7" r="1.7" fill="#111"/>
<circle cx="385.3" cy="366.1" r="1.7" fill="#111"/>
<circle cx="405.4" cy="324.6" r="1.7" fill="#111"/>
<circle cx="405.4" cy="328.6" r="1.7" fill="#111"/>
<circle cx="418.6" cy="332.4" r="1.7" fill="#111"/>
<circle cx="418.6" cy="337.9" r="1.7" fill="#111"/>
<circle cx="448.8" cy="319.5" r="1.7" fill="#111"/>
<circle cx="448.8" cy="349.1" r="1.7" fill="#111"/>
<polygon points="393.7,334.64 398.09999999999997,334.64 395.9,338.59999999999997" fill="#111"/>
<rect x="403.80" y="351.20" width="3.2" height="3.2" fill="#111"/>
<rect x="435.90" y="339.80" width="3.4" height="3.4" fill="#111"/>
<rect x="417.00" y="333.60" width="3.2" height="3.2" fill="#111"/>
<rect x="394.40" y="350.10" width="3.0" height="3.0" fill="#111"/>
<line x1="382.40" y1="358.60" x2="389.00" y2="365.20" stroke="#333" stroke-width="0.9"/>
<line x1="382.40" y1="365.20" x2="389.00" y2="358.60" stroke="#333" stroke-width="0.9"/>
<line x1="383.30" y1="331.50" x2="389.90" y2="338.10" stroke="#333" stroke-width="0.9"/>
<line x1="383.30" y1="338.10" x2="389.90" y2="331.50" stroke="#333" stroke-width="0.9"/>
<line x1="384.80" y1="295.60" x2="391.40" y2="302.20" stroke="#333" stroke-width="0.9"/>
<line x1="384.80" y1="302.20" x2="391.40" y2="295.60" stroke="#333" stroke-width="0.9"/>
<line x1="392.60" y1="339.50" x2="399.20" y2="346.10" stroke="#333" stroke-width="0.9"/>
<line x1="392.60" y1="346.10" x2="399.20" y2="339.50" stroke="#333" stroke-width="0.9"/>
<line x1="402.10" y1="332.50" x2="408.70" y2="339.10" stroke="#333" stroke-width="0.9"/>
<line x1="402.10" y1="339.10" x2="408.70" y2="332.50" stroke="#333" stroke-width="0.9"/>
<line x1="415.30" y1="332.30" x2="421.90" y2="338.90" stroke="#333" stroke-width="0.9"/>
<line x1="415.30" y1="338.90" x2="421.90" y2="332.30" stroke="#333" stroke-width="0.9"/>
<line x1="434.30" y1="336.60" x2="440.90" y2="343.20" stroke="#333" stroke-width="0.9"/>
<line x1="434.30" y1="343.20" x2="440.90" y2="336.60" stroke="#333" stroke-width="0.9"/>
<line x1="445.50" y1="329.90" x2="452.10" y2="336.50" stroke="#333" stroke-width="0.9"/>
<line x1="445.50" y1="336.50" x2="452.10" y2="329.90" stroke="#333" stroke-width="0.9"/>
<line x1="466.50" y1="275.10" x2="466.50" y2="300.00" stroke="#333" stroke-width="1.0"/>
<line x1="463.90" y1="275.10" x2="469.10" y2="275.10" stroke="#333" stroke-width="1.0"/>
<line x1="463.90" y1="300.00" x2="469.10" y2="300.00" stroke="#333" stroke-width="1.0"/>
<line x1="469.50" y1="340.00" x2="469.50" y2="352.70" stroke="#333" stroke-width="1.0"/>
<line x1="466.90" y1="340.00" x2="472.10" y2="340.00" stroke="#333" stroke-width="1.0"/>
<line x1="466.90" y1="352.70" x2="472.10" y2="352.70" stroke="#333" stroke-width="1.0"/>
<line x1="479.60" y1="325.30" x2="484.80" y2="325.30" stroke="#333" stroke-width="1"/>
<line x1="479.60" y1="340.00" x2="484.80" y2="340.00" stroke="#333" stroke-width="1"/>
<line x1="466.80" y1="300.00" x2="467.50" y2="335.00" stroke="#444" stroke-width="1.2"/>
<path d="M466.50,301.00 C466.62,304.60 467.07,322.80 467.40,328.00 C467.73,333.20 467.03,339.48 469.00,340.00 C470.97,340.52 477.33,333.70 482.20,331.90 C487.07,330.10 502.39,327.22 505.50,326.50" fill="none" stroke="#222" stroke-width="1.0"/>
<circle cx="466.5" cy="282.7" r="1.7" fill="#111"/>
<circle cx="466.5" cy="291.6" r="1.7" fill="#111"/>
<rect x="467.50" y="355.80" width="3.0" height="3.0" fill="#111"/>
<rect x="464.80" y="325.30" width="3.0" height="3.0" fill="#111"/>
<rect x="466.80" y="327.10" width="3.0" height="3.0" fill="#111"/>
<rect x="467.70" y="330.50" width="3.0" height="3.0" fill="#111"/>
<rect x="480.70" y="321.20" width="3.0" height="3.0" fill="#111"/>
<rect x="480.70" y="336.00" width="3.0" height="3.0" fill="#111"/>
<rect x="504.00" y="328.10" width="3.0" height="3.0" fill="#111"/>
<polygon points="503.3,321.46 507.7,321.46 505.5,317.5" fill="#111"/>
<line x1="463.20" y1="297.70" x2="469.80" y2="304.30" stroke="#333" stroke-width="0.9"/>
<line x1="463.20" y1="304.30" x2="469.80" y2="297.70" stroke="#333" stroke-width="0.9"/>
<line x1="465.70" y1="336.70" x2="472.30" y2="343.30" stroke="#333" stroke-width="0.9"/>
<line x1="465.70" y1="343.30" x2="472.30" y2="336.70" stroke="#333" stroke-width="0.9"/>
<line x1="478.90" y1="328.60" x2="485.50" y2="335.20" stroke="#333" stroke-width="0.9"/>
<line x1="478.90" y1="335.20" x2="485.50" y2="328.60" stroke="#333" stroke-width="0.9"/>
<line x1="502.20" y1="323.00" x2="508.80" y2="329.60" stroke="#333" stroke-width="0.9"/>
<line x1="502.20" y1="329.60" x2="508.80" y2="323.00" stroke="#333" stroke-width="0.9"/>
</g>
</svg></div>
</body></html>
